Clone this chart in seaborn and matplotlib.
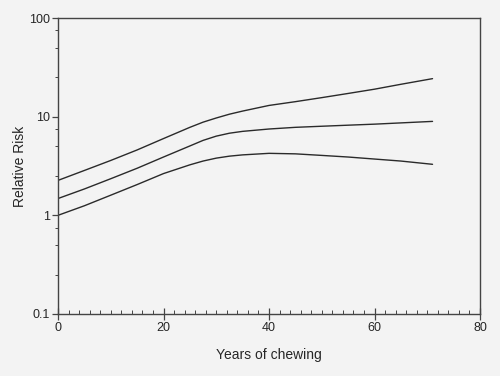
import matplotlib
matplotlib.use("Agg")
import matplotlib.pyplot as plt
import matplotlib.ticker as mticker
import numpy as np
import pandas as pd
import seaborn as sns

years = [0, 5, 10, 15, 20, 25, 27.5, 30, 32.5, 35, 40, 45, 50, 55, 60, 65, 71]
upper = [2.26, 2.85, 3.6, 4.6, 6.0, 7.8, 8.8, 9.7, 10.6, 11.4, 13.0, 14.2, 15.6, 17.2, 19.0, 21.3, 24.3]
middle = [1.48, 1.85, 2.35, 3.0, 3.9, 5.05, 5.75, 6.35, 6.8, 7.1, 7.5, 7.8, 8.0, 8.2, 8.4, 8.65, 8.96]
lower = [1.0, 1.25, 1.6, 2.05, 2.65, 3.25, 3.55, 3.8, 3.98, 4.1, 4.25, 4.2, 4.05, 3.9, 3.72, 3.55, 3.29]

x_ticks = [0, 20, 40, 60, 80]
y_ticks = [0.1, 1, 10, 100]
y_tick_labels = ['0.1', '1', '10', '100']

bg = '#f3f3f3'
sns.set_style('ticks', {'axes.facecolor': bg, 'figure.facecolor': bg})
plt.rcParams['font.family'] = ['Liberation Sans', 'DejaVu Sans']

df = pd.DataFrame({
    'years': years * 3,
    'rr': upper + middle + lower,
    'curve': ['upper'] * len(years) + ['middle'] * len(years) + ['lower'] * len(years),
})

fig = plt.figure(figsize=(5, 3.76), dpi=100)
ax = fig.add_axes([0.116, 0.165, 0.844, 0.787])

sns.lineplot(data=df, x='years', y='rr', hue='curve',
             palette=['#2a2a2a'] * 3, linewidth=1.0, legend=False, ax=ax)

ax.set_yscale('log')
ax.set_xlim(0, 80)
ax.set_ylim(0.1, 100)

ax.xaxis.set_major_locator(mticker.FixedLocator(x_ticks))
ax.xaxis.set_minor_locator(mticker.MultipleLocator(2))
ax.yaxis.set_major_locator(mticker.FixedLocator(y_ticks))
ax.yaxis.set_major_formatter(mticker.FixedFormatter(y_tick_labels))
ax.yaxis.set_minor_locator(mticker.FixedLocator([0.25, 0.5, 0.75, 2.5, 5, 7.5, 25, 50, 75]))
ax.yaxis.set_minor_formatter(mticker.NullFormatter())

spine_c = '#444444'
for s in ax.spines.values():
    s.set_visible(True)
    s.set_color(spine_c)
    s.set_linewidth(1.0)

ax.tick_params(axis='x', which='major', direction='inout', length=8, width=0.9,
               color=spine_c, labelsize=9, pad=2)
ax.tick_params(axis='x', which='minor', direction='in', length=3, width=0.7, color=spine_c)
ax.tick_params(axis='y', which='major', direction='out', length=4, width=0.9,
               color=spine_c, labelsize=9, pad=2)
ax.tick_params(axis='y', which='minor', direction='out', length=2, width=0.7, color=spine_c)

ax.set_xlabel('Years of chewing', fontsize=10, labelpad=10)
ax.set_ylabel('Relative Risk', fontsize=10, labelpad=1)

fig.savefig('out.png', dpi=100, facecolor=bg)
